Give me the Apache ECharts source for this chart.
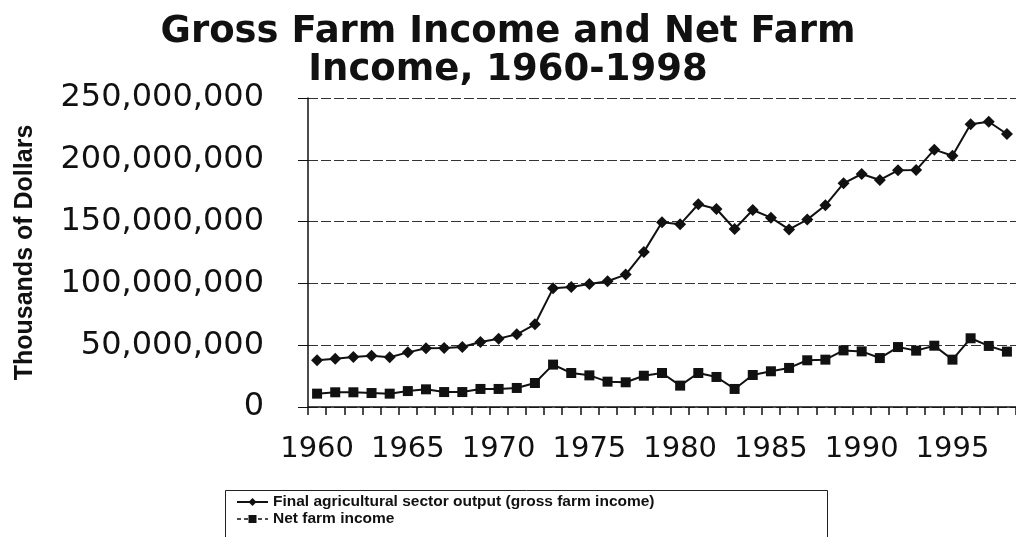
<!DOCTYPE html>
<html>
<head>
<meta charset="utf-8">
<script src="https://cdn.jsdelivr.net/npm/echarts@6/dist/echarts.min.js"></script>
<style>
html,body{margin:0;padding:0;background:#fff;}
#c{width:1016px;height:537px;}
</style>
</head>
<body>
<div id="c"></div>
<script>
const years = ['1960','1961','1962','1963','1964','1965','1966','1967','1968','1969',
  '1970','1971','1972','1973','1974','1975','1976','1977','1978','1979',
  '1980','1981','1982','1983','1984','1985','1986','1987','1988','1989',
  '1990','1991','1992','1993','1994','1995','1996','1997','1998'];

const grossFarmIncome = [37800000,39100000,40500000,41500000,40200000,44200000,47500000,47700000,48500000,52600000,
  55300000,58800000,66900000,96000000,97100000,99500000,101700000,107100000,125500000,149400000,
  147800000,164000000,160200000,144000000,159400000,153200000,143700000,151600000,163200000,181000000,
  188500000,183700000,191500000,191700000,208200000,203300000,228700000,230800000,220900000];

const netFarmIncome = [10800000,11900000,11900000,11300000,10800000,12900000,14300000,12100000,12100000,14600000,
  14600000,15400000,19400000,34300000,27500000,25600000,20500000,20000000,25300000,27500000,
  17300000,27500000,24300000,14600000,25900000,28900000,31600000,37800000,38300000,45800000,
  45000000,39600000,48500000,45600000,49600000,38300000,55600000,49400000,44800000];

const seriesNames = ['Final agricultural sector output (gross farm income)', 'Net farm income'];
const titleText = 'Gross Farm Income and Net Farm\nIncome, 1960-1998';
const yAxisName = 'Thousands of Dollars';

const chart = echarts.init(document.getElementById('c'), null, {renderer:'canvas'});
const ink = '#111';
chart.setOption({
  animation:false,
  backgroundColor:'#fff',
  title:{
    text:titleText,
    left:'center', top:8,
    textStyle:{fontFamily:'DejaVu Sans', fontWeight:'bold', fontSize:37, lineHeight:38, color:ink}
  },
  grid:{left:308, top:98, width:709, height:309, containLabel:false},
  xAxis:{
    type:'category',
    data:years,
    boundaryGap:true,
    axisLine:{show:true, lineStyle:{color:ink, width:1.5}},
    axisTick:{show:true, interval:0, length:8, lineStyle:{color:ink, width:1.5}},
    axisLabel:{interval:4, margin:28, fontFamily:'DejaVu Sans', fontSize:29, color:ink},
    splitLine:{show:false}
  },
  yAxis:{
    type:'value',
    min:0, max:250000000, interval:50000000,
    name:yAxisName,
    nameLocation:'middle',
    nameRotate:90,
    nameGap:270,
    nameTextStyle:{fontFamily:'Liberation Sans', fontWeight:'bold', fontSize:25, color:ink},
    axisLine:{show:true, lineStyle:{color:ink, width:1.5}},
    axisTick:{show:true, length:10, lineStyle:{color:ink, width:1}},
    axisLabel:{margin:44, fontFamily:'DejaVu Sans', fontSize:32, color:ink,
      formatter:function(v){return v.toString().replace(/\B(?=(\d{3})+(?!\d))/g, ',');}},
    splitLine:{show:true, lineStyle:{color:'#333', width:1, type:[10,3]}}
  },
  legend:{
    orient:'vertical',
    left:231, top:489,
    itemGap:1,
    itemWidth:31, itemHeight:10,
    textStyle:{fontFamily:'Liberation Sans', fontWeight:'bold', fontSize:15.5, color:ink},
    data:[
      {name:seriesNames[0]},
      {name:seriesNames[1], lineStyle:{type:[4,3], width:1.5}}
    ]
  },
  graphic:[{
    type:'rect', left:223, top:488, shape:{width:602, height:70},
    style:{fill:'none', stroke:'#222', lineWidth:1}, silent:true
  }],
  series:[
    {
      name:seriesNames[0], type:'line', data:grossFarmIncome,
      symbol:'diamond', symbolSize:12, showAllSymbol:true,
      lineStyle:{color:ink, width:2}, itemStyle:{color:ink}
    },
    {
      name:seriesNames[1], type:'line', data:netFarmIncome,
      symbol:'rect', symbolSize:10, showAllSymbol:true,
      lineStyle:{color:ink, width:2}, itemStyle:{color:ink}
    }
  ]
});
</script>
</body>
</html>
